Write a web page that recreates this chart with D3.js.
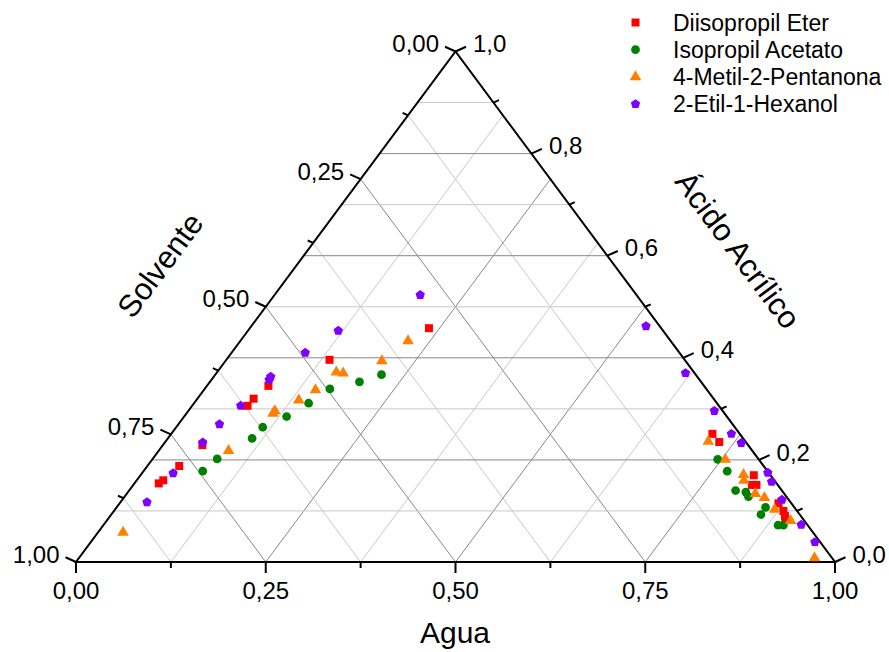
<!DOCTYPE html>
<html>
<head>
<meta charset="utf-8">
<script src="https://cdn.jsdelivr.net/npm/d3@7"></script>
<style>
  body { margin: 0; background: #fff; }
  text { font-family: Arial, "Liberation Sans", sans-serif; fill: #000; }
</style>
</head>
<body>
<div id="chart"></div>
<script>
// composiciones: [agua, acido acrilico]  (solvente = 1 - agua - acido)
var diisopropilEter = [
  [0.236, 0.458], [0.136, 0.396], [0.081, 0.345], [0.074, 0.320], [0.073, 0.306],
  [0.052, 0.229], [0.042, 0.188], [0.035, 0.160], [0.032, 0.154],
  [0.713, 0.251], [0.730, 0.235], [0.808, 0.170], [0.815, 0.151], [0.821, 0.151],
  [0.868, 0.115], [0.882, 0.100], [0.889, 0.090], [0.893, 0.083]
];
var isopropilAcetato = [
  [0.219, 0.367], [0.197, 0.353], [0.165, 0.339], [0.151, 0.311], [0.135, 0.285],
  [0.114, 0.264], [0.111, 0.242], [0.085, 0.202], [0.078, 0.178],
  [0.745, 0.201], [0.769, 0.178], [0.799, 0.140], [0.814, 0.137], [0.822, 0.128],
  [0.855, 0.107], [0.856, 0.093], [0.889, 0.072], [0.896, 0.072]
];
var metilPentanona = [
  [0.221, 0.433], [0.206, 0.394], [0.157, 0.372], [0.167, 0.370], [0.147, 0.337],
  [0.135, 0.317], [0.114, 0.296], [0.114, 0.291], [0.092, 0.218], [0.033, 0.058],
  [0.715, 0.236], [0.755, 0.201], [0.794, 0.171], [0.800, 0.160], [0.828, 0.134],
  [0.844, 0.126], [0.869, 0.103], [0.901, 0.081], [0.969, 0.008]
];
var etilHexanol = [
  [0.192, 0.523], [0.119, 0.453], [0.097, 0.410], [0.075, 0.363], [0.076, 0.357],
  [0.064, 0.306], [0.054, 0.270], [0.050, 0.234], [0.041, 0.174], [0.035, 0.117],
  [0.520, 0.462], [0.618, 0.370], [0.693, 0.296], [0.738, 0.251], [0.760, 0.233],
  [0.824, 0.175], [0.838, 0.157], [0.869, 0.122], [0.919, 0.073], [0.954, 0.039]
];

var seriesNames = ["Diisopropil Eter", "Isopropil Acetato", "4-Metil-2-Pentanona", "2-Etil-1-Hexanol"];
var seriesData = [diisopropilEter, isopropilAcetato, metilPentanona, etilHexanol];

var aguaTicks = [0, 0.25, 0.5, 0.75, 1];        // eje inferior
var solventeTicks = [0, 0.25, 0.5, 0.75, 1];    // eje izquierdo
var acidoTicks = [0, 0.2, 0.4, 0.6, 0.8, 1];    // eje derecho
var minor125 = d3.range(1, 8, 2).map(function (i) { return i * 0.125; });
var minor10 = d3.range(1, 10, 2).map(function (i) { return i * 0.1; });

var width = 889, height = 652;
var colors = ["#ff0000", "#008000", "#ff8000", "#8000ff"];

var svg = d3.select("#chart").append("svg")
  .attr("width", width)
  .attr("height", height);

// triangulo: u = agua + acido/2, v = acido
var x = d3.scaleLinear().domain([0, 1]).range([76, 835]);
var y = d3.scaleLinear().domain([0, 1]).range([562, 51.5]);

function pt(a, c) {
  return [x(a + c / 2), y(c)];
}

var locale = d3.formatLocale({ decimal: ",", thousands: ".", grouping: [3], currency: ["", ""] });
var format2 = locale.format(".2f");
var format1 = locale.format(".1f");

// grid
var grid = svg.append("g");
function gridLine(p1, p2, major) {
  grid.append("line")
    .attr("x1", p1[0]).attr("y1", p1[1])
    .attr("x2", p2[0]).attr("y2", p2[1])
    .attr("stroke", major ? "#888888" : "#c8c8c8")
    .attr("stroke-width", 1);
}
d3.range(1, 8).forEach(function (i) {
  var a = i * 0.125;
  gridLine(pt(a, 0), pt(a, 1 - a), i % 2 === 0);           // agua constante
  gridLine(pt(1 - a, 0), pt(0, 1 - a), i % 2 === 0);       // solvente constante
});
d3.range(1, 10).forEach(function (i) {
  var c = i * 0.1;
  gridLine(pt(0, c), pt(1 - c, c), i % 2 === 0);           // acido constante
});

// border
svg.append("path")
  .attr("d", d3.line()([pt(0, 0), pt(1, 0), pt(0, 1)]) + "Z")
  .attr("fill", "none")
  .attr("stroke", "#000")
  .attr("stroke-width", 2)
  .attr("stroke-linejoin", "miter");

// ticks
var ticks = svg.append("g").attr("stroke", "#000").attr("stroke-width", 2);
var dl = [-0.912, -0.41], dr = [0.912, -0.41];
function tick(p, d, len) {
  ticks.append("line")
    .attr("x1", p[0]).attr("y1", p[1])
    .attr("x2", p[0] + d[0] * len).attr("y2", p[1] + d[1] * len);
  return [p[0] + d[0] * len, p[1] + d[1] * len];
}

var labels = svg.append("g").style("font-size", "24px");

aguaTicks.forEach(function (a) {
  var p = tick(pt(a, 0), [0, 1], 11);
  labels.append("text").attr("x", p[0]).attr("y", 591).attr("dy", "0.35em")
    .attr("text-anchor", "middle").text(format2(a));
});
minor125.forEach(function (a) { tick(pt(a, 0), [0, 1], 6); });

solventeTicks.forEach(function (s) {
  var p = tick(pt(0, 1 - s), dl, 11.5);
  labels.append("text").attr("x", p[0] - 6).attr("y", p[1] - 3).attr("dy", "0.35em")
    .attr("text-anchor", "end").text(format2(s));
});
minor125.forEach(function (s) { tick(pt(0, 1 - s), dl, 6); });

acidoTicks.forEach(function (c) {
  var p = tick(pt(1 - c, c), dr, 11.5);
  labels.append("text").attr("x", p[0] + 7).attr("y", p[1] - 3).attr("dy", "0.35em")
    .attr("text-anchor", "start").text(format1(c));
});
minor10.forEach(function (c) { tick(pt(1 - c, c), dr, 6); });

// axis titles
var ang = Math.atan2(y(0) - y(1), x(0.5) - x(0)) * 180 / Math.PI;
svg.append("text").attr("x", 455).attr("y", 632).attr("dy", "0.35em")
  .attr("text-anchor", "middle").style("font-size", "30px").text("Agua");
svg.append("text").attr("transform", "translate(160,265) rotate(" + (-ang) + ")")
  .attr("dy", "0.35em").attr("text-anchor", "middle").style("font-size", "31px").text("Solvente");
svg.append("text").attr("transform", "translate(738,250) rotate(" + ang + ")")
  .attr("dy", "0.35em").attr("text-anchor", "middle").style("font-size", "31px").text("Ácido Acrílico");

// symbols
var symbolPentagon = {
  draw: function (context, size) {
    var r = Math.sqrt(size / 2.378);
    for (var i = 0; i < 5; i++) {
      var t = -Math.PI / 2 + i * 2 * Math.PI / 5;
      if (i === 0) context.moveTo(r * Math.cos(t), r * Math.sin(t));
      else context.lineTo(r * Math.cos(t), r * Math.sin(t));
    }
    context.closePath();
  }
};
var symbolTypes = [d3.symbolSquare, d3.symbolCircle, d3.symbolTriangle, symbolPentagon];
var symbolSizes = [64, 60, 58, 58];

seriesData.forEach(function (data, k) {
  svg.append("g").selectAll("path")
    .data(data)
    .enter().append("path")
    .attr("transform", function (d) {
      var p = pt(d[0], d[1]);
      return "translate(" + p[0] + "," + p[1] + ")";
    })
    .attr("d", d3.symbol().type(symbolTypes[k]).size(symbolSizes[k]))
    .attr("fill", colors[k]);
});

// legend
var legend = svg.append("g");
seriesNames.forEach(function (name, k) {
  var ly = 22.5 + k * 27.2;
  legend.append("path")
    .attr("transform", "translate(635.5," + ly + ")")
    .attr("d", d3.symbol().type(symbolTypes[k]).size(symbolSizes[k]))
    .attr("fill", colors[k]);
  legend.append("text").attr("x", 673).attr("y", ly).attr("dy", "0.35em")
    .style("font-size", "23px").text(name);
});
</script>
</body>
</html>
